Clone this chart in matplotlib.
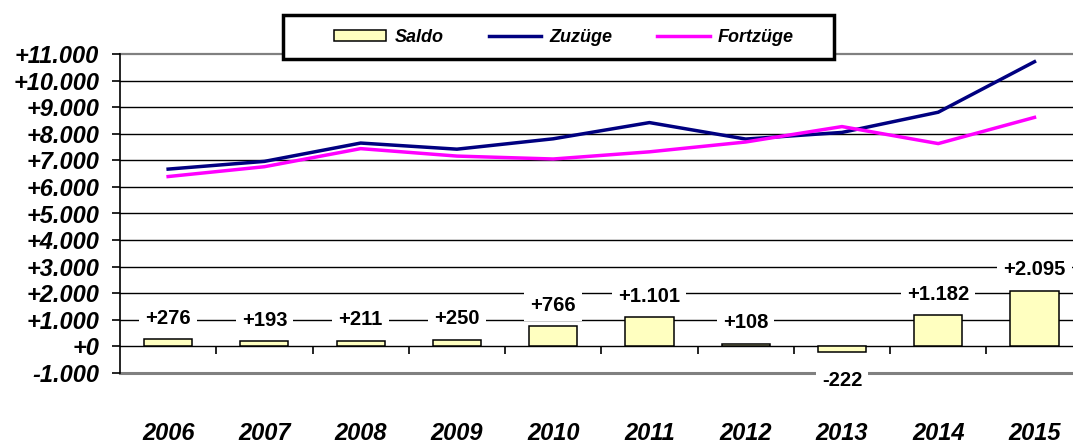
import matplotlib
matplotlib.use("Agg")
import matplotlib.pyplot as plt
import matplotlib.transforms as mtransforms
from matplotlib.patches import Rectangle
from matplotlib.ticker import FuncFormatter, FixedLocator

plt.rcParams["font.family"] = ["Liberation Sans", "DejaVu Sans"]

jahre = ["2006", "2007", "2008", "2009", "2010", "2011", "2012", "2013", "2014", "2015"]
saldo = [276, 193, 211, 250, 766, 1101, 108, -222, 1182, 2095]
zuzuege = [6670, 6960, 7650, 7420, 7810, 8420, 7800, 8050, 8810, 10710]
fortzuege = [6390, 6760, 7440, 7160, 7050, 7320, 7690, 8270, 7630, 8615]


def fmt_zahl(v, pos=None):
    s = f"{abs(v):,.0f}".replace(",", ".")
    return ("-" if v < 0 else "+") + s


fig = plt.figure(figsize=(10.73, 4.44), dpi=100)
ax = fig.add_axes([120 / 1073, 1 - 373 / 444, 953 / 1073, 319 / 444])

x = list(range(len(jahre)))
ax.set_xlim(-0.5, 9.4)
ax.set_ylim(-1000, 11000)

# horizontale Gitterlinien
for y in range(0, 11000, 1000):
    ax.axhline(y, color="black", lw=1.0, zorder=1)
ax.axhline(-1000, color="#808080", lw=2.2, zorder=1, clip_on=False)
ax.axhline(11000, color="#808080", lw=1.6, zorder=1, clip_on=False)

balken = ax.bar(x, saldo, width=0.5, color="#FFFFC0", edgecolor="black", lw=1.1,
                zorder=2, label="Saldo")
l_zu, = ax.plot(x, zuzuege, color="#000080", lw=2.5, zorder=4, label="Zuzüge")
l_fort, = ax.plot(x, fortzuege, color="#FF00FF", lw=2.5, zorder=4, label="Fortzüge")

for xi, v in zip(x, saldo):
    off = 15 if v >= 0 else -20
    ax.annotate(fmt_zahl(v), (xi, v), xytext=(0, off), textcoords="offset points",
                ha="center", va="center", fontsize=14.5, fontweight="bold", zorder=5,
                bbox=dict(boxstyle="square,pad=0.3", fc="white", ec="none"))

# Achsen
for s in ["top", "right"]:
    ax.spines[s].set_visible(False)
ax.spines["left"].set_linewidth(1.2)
ax.spines["bottom"].set_position(("data", 0))
ax.spines["bottom"].set_visible(False)

ax.yaxis.set_major_locator(FixedLocator(range(-1000, 12000, 1000)))
ax.yaxis.set_major_formatter(FuncFormatter(fmt_zahl))
ax.tick_params(axis="y", direction="out", length=6, width=1.2, pad=9)
for lbl in ax.get_yticklabels():
    lbl.set_fontsize(17)
    lbl.set_fontweight("bold")
    lbl.set_fontstyle("italic")

ax.xaxis.set_major_locator(FixedLocator([i + 0.5 for i in range(len(jahre) - 1)]))
ax.tick_params(axis="x", direction="out", length=6, width=1.2, labelbottom=False)

trans = mtransforms.blended_transform_factory(ax.transData, ax.transAxes)
for xi, j in zip(x, jahre):
    ax.text(xi, -0.19, j, transform=trans, ha="center", va="center",
            fontsize=17, fontweight="bold", fontstyle="italic")

# Legende mit eigenem Rahmen
rahmen = Rectangle((283 / 1073, 1 - 59 / 444), 551 / 1073, 44 / 444,
                   transform=fig.transFigure, fc="white", ec="black", lw=2.5, zorder=9)
fig.patches.append(rahmen)
leg = fig.legend([balken, l_zu, l_fort], ["Saldo", "Zuzüge", "Fortzüge"],
                 loc="center", ncol=3, bbox_to_anchor=(564 / 1073, 1 - 37.5 / 444),
                 frameon=False, prop=dict(size=13, weight="bold", style="italic"),
                 handlelength=2.9, handleheight=0.6, columnspacing=2.5,
                 handletextpad=0.45, borderaxespad=0, borderpad=0)
leg.set_zorder(10)

fig.savefig("out.png", dpi=100)
